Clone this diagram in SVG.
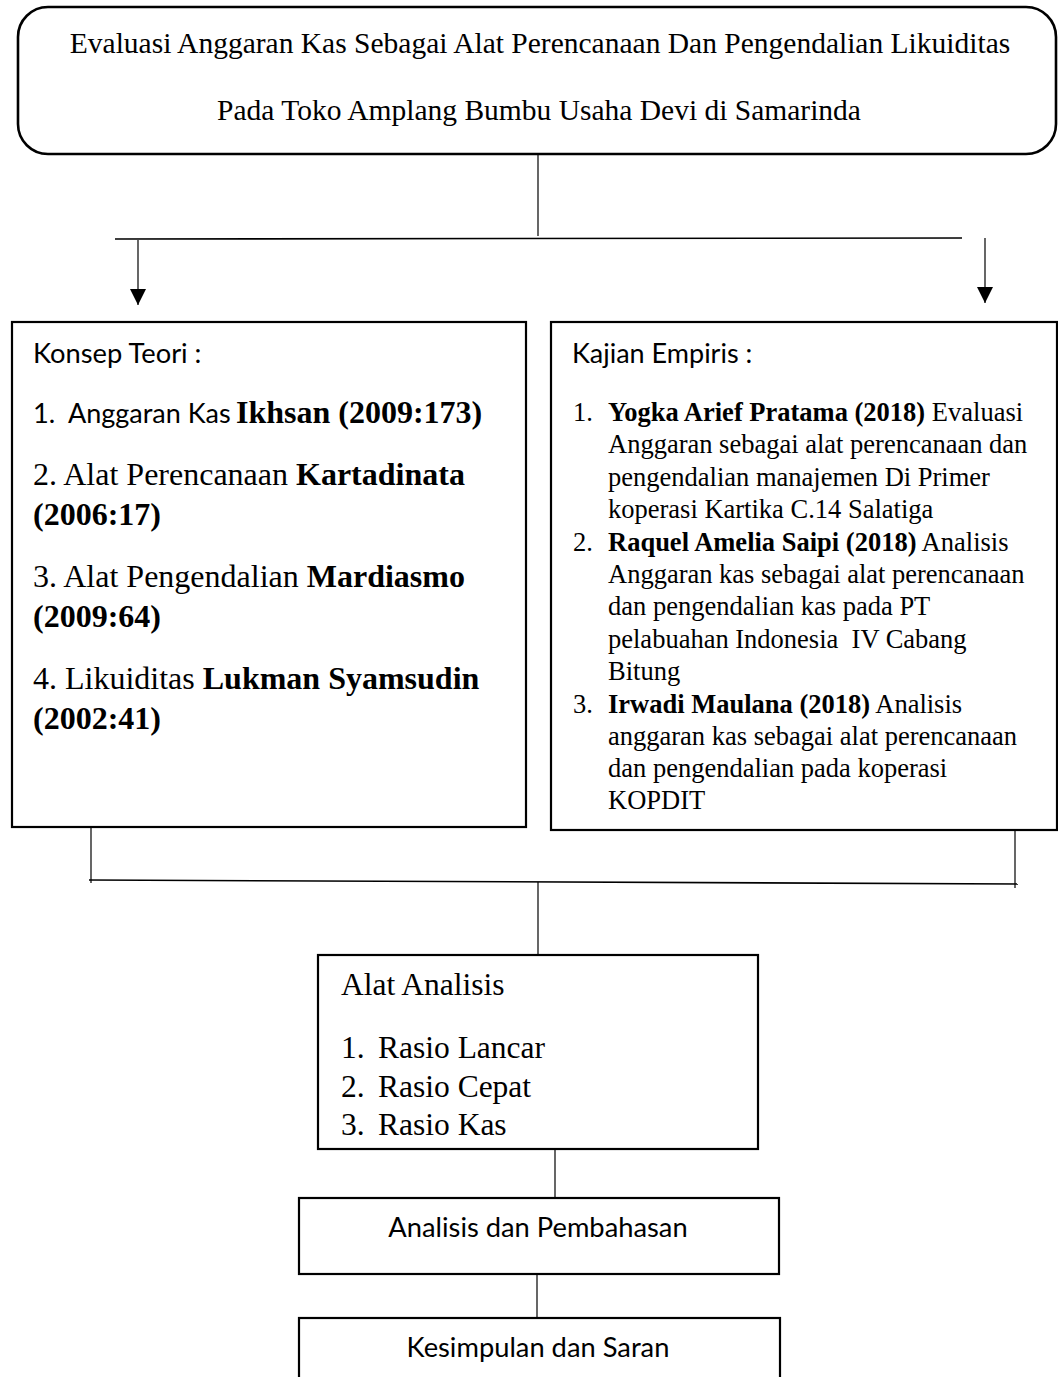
<svg xmlns="http://www.w3.org/2000/svg" width="1058" height="1377" viewBox="0 0 1058 1377">
<style>
.box{fill:#fff;stroke:#000;stroke-width:2.2}
.ln{stroke:#000;stroke-width:1.2;fill:none}
.tr{font-family:"Liberation Serif","Times New Roman",serif;fill:#000}
.ca{font-family:Lato,"Open Sans",sans-serif;fill:#000}
.b{font-weight:bold}
</style>
<defs>
<marker id="ah" markerUnits="userSpaceOnUse" markerWidth="16" markerHeight="16" refX="16" refY="8" orient="auto">
<path d="M0,0 L16,8 L0,16 z" fill="#000"/>
</marker>
</defs>
<g id="connectors">
<line class="ln" x1="538" y1="154" x2="538" y2="236"/>
<line class="ln" x1="115" y1="239" x2="962" y2="238" style="stroke-width:1.6"/>
<line class="ln" x1="138" y1="240" x2="138" y2="305" marker-end="url(#ah)"/>
<line class="ln" x1="985" y1="238" x2="985" y2="303" marker-end="url(#ah)"/>
<line class="ln" x1="91" y1="827" x2="91" y2="883"/>
<line class="ln" x1="1015" y1="831" x2="1015" y2="888"/>
<line class="ln" x1="89" y1="880" x2="1018" y2="884" style="stroke-width:1.6"/>
<line class="ln" x1="538" y1="882" x2="538" y2="955"/>
<line class="ln" x1="555" y1="1149" x2="555" y2="1197"/>
<line class="ln" x1="537" y1="1274" x2="537" y2="1318"/>
</g>
<g id="title">
<rect class="box" x="18" y="7" width="1038" height="147" rx="30" ry="30" style="stroke-width:2.6"/>
<text class="tr" x="540" y="53" font-size="29.5" text-anchor="middle">Evaluasi Anggaran Kas Sebagai Alat Perencanaan Dan Pengendalian Likuiditas</text>
<text class="tr" x="539" y="120" font-size="29.5" text-anchor="middle">Pada Toko Amplang Bumbu Usaha Devi di Samarinda</text>
</g>
<g id="konsep">
<rect class="box" x="12" y="322" width="514" height="505"/>
<text class="ca" x="33" y="363" font-size="27.3">Konsep Teori :</text>
<text class="ca" x="33" y="423" font-size="27.3">1.</text>
<text class="ca" x="68" y="423" font-size="27">Anggaran Kas</text>
<text class="tr b" x="236" y="423" font-size="32">Ikhsan (2009:173)</text>
<text class="tr" x="33" y="485" font-size="32">2. Alat Perencanaan <tspan class="b">Kartadinata</tspan></text>
<text class="tr b" x="33" y="525" font-size="32">(2006:17)</text>
<text class="tr" x="33" y="587" font-size="32">3. Alat Pengendalian <tspan class="b">Mardiasmo</tspan></text>
<text class="tr b" x="33" y="627" font-size="32">(2009:64)</text>
<text class="tr" x="33" y="689" font-size="32">4. Likuiditas <tspan class="b">Lukman Syamsudin</tspan></text>
<text class="tr b" x="33" y="729" font-size="32">(2002:41)</text>
</g>
<g id="kajian">
<rect class="box" x="551" y="322" width="506" height="508"/>
<text class="ca" x="572" y="363" font-size="27">Kajian Empiris :</text>
<g class="tr" font-size="26.5">
<text x="573" y="421">1.</text>
<text x="608" y="421"><tspan class="b">Yogka Arief Pratama (2018)</tspan> Evaluasi</text>
<text x="608" y="453">Anggaran sebagai alat perencanaan dan</text>
<text x="608" y="486">pengendalian manajemen Di Primer</text>
<text x="608" y="518">koperasi Kartika C.14 Salatiga</text>
<text x="573" y="551">2.</text>
<text x="608" y="551"><tspan class="b">Raquel Amelia Saipi (2018)</tspan> Analisis</text>
<text x="608" y="583">Anggaran kas sebagai alat perencanaan</text>
<text x="608" y="615">dan pengendalian kas pada PT</text>
<text x="608" y="648" xml:space="preserve">pelabuahan Indonesia  IV Cabang</text>
<text x="608" y="680">Bitung</text>
<text x="573" y="713">3.</text>
<text x="608" y="713"><tspan class="b">Irwadi Maulana (2018)</tspan> Analisis</text>
<text x="608" y="745">anggaran kas sebagai alat perencanaan</text>
<text x="608" y="777">dan pengendalian pada koperasi</text>
<text x="608" y="809">KOPDIT</text>
</g>
</g>
<g id="alat">
<rect class="box" x="318" y="955" width="440" height="194"/>
<g class="tr" font-size="31.5">
<text x="341" y="995">Alat Analisis</text>
<text x="341" y="1058">1.</text><text x="378" y="1058">Rasio Lancar</text>
<text x="341" y="1097">2.</text><text x="378" y="1097">Rasio Cepat</text>
<text x="341" y="1135">3.</text><text x="378" y="1135">Rasio Kas</text>
</g>
</g>
<g id="analisis">
<rect class="box" x="299" y="1198" width="480" height="76"/>
<text class="ca" x="538" y="1237" font-size="27.3" text-anchor="middle">Analisis dan Pembahasan</text>
</g>
<g id="kesimpulan">
<rect class="box" x="299" y="1318" width="481" height="100"/>
<text class="ca" x="538" y="1357" font-size="27.3" text-anchor="middle">Kesimpulan dan Saran</text>
</g>
</svg>
